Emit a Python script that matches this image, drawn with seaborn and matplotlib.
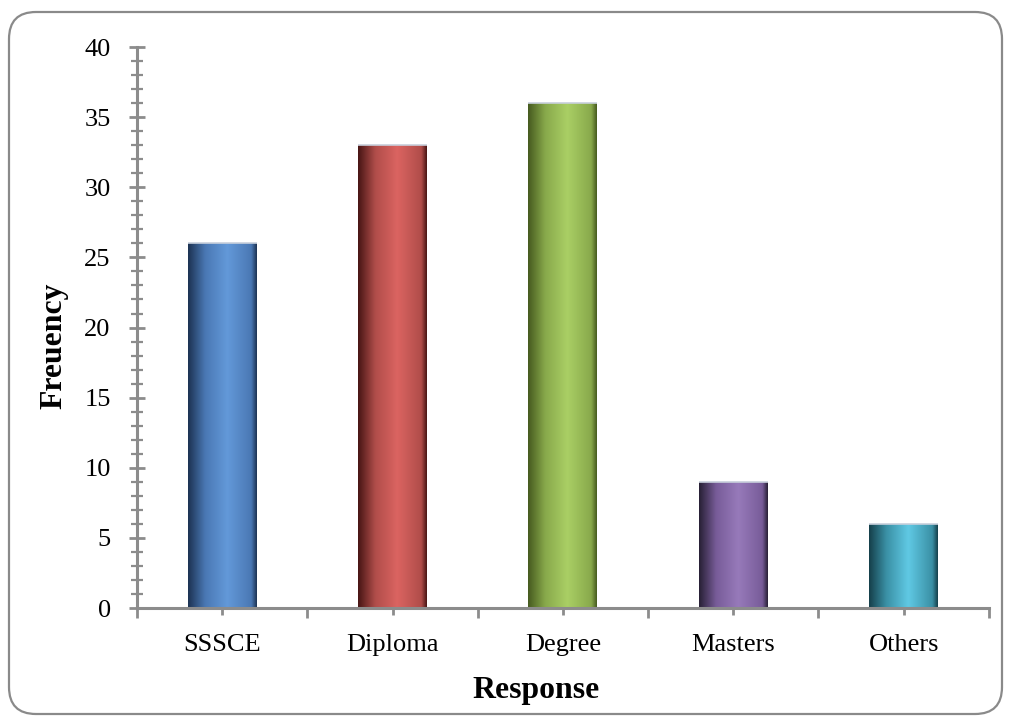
import numpy as np
import pandas as pd
import matplotlib
matplotlib.use("Agg")
import matplotlib.pyplot as plt
import seaborn as sns
from matplotlib.colors import LinearSegmentedColormap
from matplotlib.patches import FancyBboxPatch
from matplotlib.ticker import MultipleLocator, FixedLocator

# Survey responses: highest qualification
categories = ["SSSCE", "Diploma", "Degree", "Masters", "Others"]
frequency = [26, 33, 36, 9, 6]

# Per-bar shading: (dark edge, highlight, right side)
shades = [
    ("#1c3252", "#6399d9", "#4a78b4"),
    ("#471514", "#db6461", "#b04d4a"),
    ("#465a1f", "#aacf65", "#88a94b"),
    ("#272035", "#977aba", "#785c99"),
    ("#153f4a", "#60c9e4", "#3a90a5"),
]

sns.set_theme(style="white")
plt.rcParams["font.family"] = ["Liberation Serif", "DejaVu Serif"]

df = pd.DataFrame({"Response": categories, "Frequency": frequency})

fig = plt.figure(figsize=(10.09, 7.17), dpi=100)
ax = fig.add_axes([0.1358, 0.152, 0.980 - 0.1358, 0.9344 - 0.152])

sns.barplot(data=df, x="Response", y="Frequency", hue="Response",
            palette=[s[1] for s in shades], width=0.405, legend=False,
            saturation=1, ax=ax)

# Replace the flat fills with a horizontal cylinder-like gradient
grad = np.linspace(0, 1, 256).reshape(1, -1)
for patch, (dark, light, side) in zip(ax.patches, shades):
    cmap = LinearSegmentedColormap.from_list(
        "bar", [(0.0, dark), (0.25, side), (0.57, light), (0.92, side), (1.0, dark)])
    x0, y0 = patch.get_x(), patch.get_y()
    w, h = patch.get_width(), patch.get_height()
    patch.set_edgecolor("none")
    im = ax.imshow(grad, cmap=cmap, aspect="auto", interpolation="bicubic",
                   extent=(x0, x0 + w, y0, y0 + h), zorder=patch.get_zorder() + 0.1)
    im.set_clip_path(patch)
    # thin light cap along the top
    ax.plot([x0, x0 + w], [y0 + h, y0 + h], color="#c8d0dc", lw=1.2,
            zorder=patch.get_zorder() + 0.2, solid_capstyle="butt")

ax.set_xlim(-0.5, len(categories) - 0.5)
ax.set_ylim(0, 40)

axis_gray = "#8c8c8c"
for side in ["top", "right"]:
    ax.spines[side].set_visible(False)
for side in ["left", "bottom"]:
    ax.spines[side].set_color(axis_gray)
    ax.spines[side].set_linewidth(2.2)

ax.yaxis.set_major_locator(MultipleLocator(5))
ax.yaxis.set_minor_locator(MultipleLocator(1))
ax.tick_params(axis="y", which="major", direction="inout", length=12, width=2,
               color=axis_gray, labelsize=19, labelcolor="black", pad=13, left=True)
ax.tick_params(axis="y", which="minor", direction="inout", length=8, width=1.6,
               color=axis_gray, left=True)

ax.set_xticks(range(len(categories)))
ax.set_xticklabels(categories)
ax.xaxis.set_minor_locator(FixedLocator(np.arange(-0.5, len(categories), 1.0)))
ax.tick_params(axis="x", which="major", direction="inout", length=10, width=2,
               color=axis_gray, labelsize=19, labelcolor="black", pad=14, bottom=True)
ax.tick_params(axis="x", which="minor", direction="out", length=7, width=2,
               color=axis_gray, bottom=True)

ax.set_xlabel("Response", fontsize=22.9, fontweight="bold", color="black")
ax.xaxis.set_label_coords((536 - 137) / 852, -0.122)
ax.set_ylabel("Freuency", fontsize=22.9, fontweight="bold", color="black")
ax.yaxis.set_label_coords(-0.081, 0.468)
ax.grid(False)

# Rounded chart-area border
border = FancyBboxPatch((0.09, 0.03), 9.93, 7.02,
                        boxstyle="round,pad=0,rounding_size=0.27",
                        transform=fig.dpi_scale_trans, fill=False,
                        edgecolor="#8a8a8a", linewidth=1.6, zorder=-1)
fig.patches.append(border)

fig.savefig("out.png", dpi=100)
